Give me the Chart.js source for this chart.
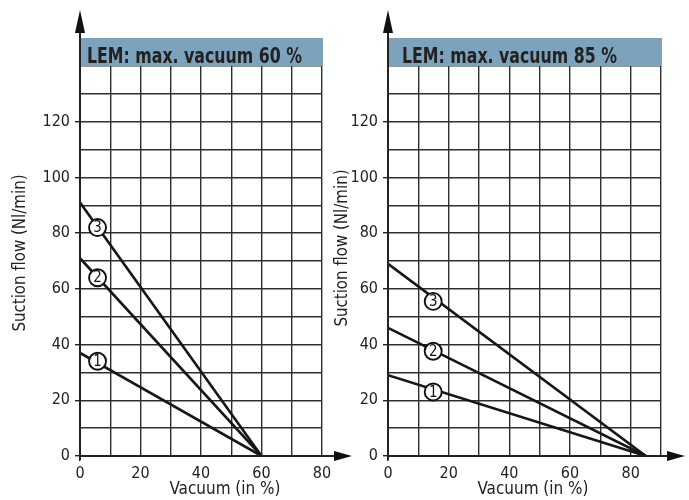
<!DOCTYPE html>
<html><head><meta charset="utf-8">
<script src="https://cdn.jsdelivr.net/npm/chart.js@4/dist/chart.umd.min.js"></script>
<style>
html,body{margin:0;padding:0;background:#fff;}
body{width:689px;height:500px;position:relative;overflow:hidden;}
canvas{position:absolute;top:0;}
#c1{left:0;} #c2{left:322px;}
</style></head><body>
<canvas id="c1" width="360" height="500"></canvas>
<canvas id="c2" width="367" height="500"></canvas>
<script>
// ---------- data ----------
const xTickLabels = ['0', '20', '40', '60', '80'];
const yTickLabels = ['0', '20', '40', '60', '80', '100', '120'];
const curveNames = ['1', '2', '3'];
const xAxisTitle = 'Vacuum (in %)';
const yAxisTitle = 'Suction flow (Nl/min)';

const leftTitle = 'LEM: max. vacuum 60 %';
const leftVacuum = [0, 60];
const leftFlow1 = [37, 0];
const leftFlow2 = [71, 0];
const leftFlow3 = [91, 0];
const leftLabelVacuum = [5.8, 5.8, 5.8];
const leftLabelFlow = [34, 64, 82];

const rightTitle = 'LEM: max. vacuum 85 %';
const rightVacuum = [0, 85];
const rightFlow1 = [29, 0];
const rightFlow2 = [46, 0];
const rightFlow3 = [69, 0];
const rightLabelVacuum = [14.9, 14.9, 14.9];
const rightLabelFlow = [23, 37.6, 55.5];

// ---------- styling ----------
const FONT = "'Liberation Sans Narrow','DejaVu Sans Condensed','Arial Narrow',sans-serif";
const INK = '#222';
const GRID = '#2e2e2e';
const BAND = '#7ca2bc';

function pts(xs, ys) { return xs.map((x, i) => ({ x: x, y: ys[i] })); }

// draw text squeezed horizontally to a given width (condensed look)
function fitText(ctx, text, x, y, width) {
  const w = ctx.measureText(text).width;
  const k = Math.min(1, width / w);
  ctx.save();
  ctx.translate(x, y);
  ctx.scale(k, 1);
  ctx.fillText(text, 0, 0);
  ctx.restore();
}

const decor = {
  id: 'decor',
  afterDatasetsDraw(chart) {
    const ctx = chart.ctx;
    const meta = chart.getDatasetMeta(3);
    ctx.save();
    ctx.fillStyle = '#111';
    ctx.font = '16px ' + FONT;
    ctx.textAlign = 'center';
    ctx.textBaseline = 'middle';
    meta.data.forEach((el, i) => {
      fitText(ctx, curveNames[i], el.x, el.y + 0.5, 8.5);
    });
    ctx.restore();
  },
  afterDraw(chart, args, o) {
    const ctx = chart.ctx;
    const a = chart.chartArea;
    ctx.save();
    // header band
    ctx.fillStyle = BAND;
    ctx.fillRect(a.left, 38, a.right - a.left + 1, a.top - 38);
    ctx.fillStyle = INK;
    ctx.font = 'bold 21px ' + FONT;
    ctx.textAlign = 'left';
    ctx.textBaseline = 'alphabetic';
    fitText(ctx, o.header, a.left + o.headerDx, 63, 215);
    // y axis extension + arrow
    ctx.strokeStyle = '#222';
    ctx.lineWidth = 2;
    ctx.beginPath();
    ctx.moveTo(a.left, a.bottom + 4);
    ctx.lineTo(a.left, 30);
    ctx.stroke();
    ctx.fillStyle = '#111';
    ctx.beginPath();
    ctx.moveTo(a.left, 10);
    ctx.lineTo(a.left - 5, 33);
    ctx.lineTo(a.left + 5, 33);
    ctx.closePath();
    ctx.fill();
    // x axis extension + arrow
    ctx.beginPath();
    ctx.moveTo(a.left, a.bottom);
    ctx.lineTo(a.right + o.arrowLen - 16, a.bottom);
    ctx.stroke();
    ctx.beginPath();
    ctx.moveTo(a.right + o.arrowLen, a.bottom);
    ctx.lineTo(a.right + o.arrowLen - 18, a.bottom - 5);
    ctx.lineTo(a.right + o.arrowLen - 18, a.bottom + 5);
    ctx.closePath();
    ctx.fill();
    // axis titles
    ctx.fillStyle = INK;
    ctx.font = '18px ' + FONT;
    ctx.textAlign = 'center';
    ctx.textBaseline = 'middle';
    fitText(ctx, xAxisTitle, a.left + 145, 489, 111);
    ctx.translate(20, o.yTitleY);
    ctx.rotate(-Math.PI / 2);
    fitText(ctx, yAxisTitle, 0, 0, 157);
    ctx.restore();
  }
};

function makeChart(id, cfg) {
  const canvas = document.getElementById(id);
  const W = canvas.width;
  return new Chart(canvas, {
    type: 'line',
    data: {
      datasets: [
        { data: pts(cfg.vac, cfg.f1), borderColor: '#161616', borderWidth: 2.6, pointRadius: 0, order: 1 },
        { data: pts(cfg.vac, cfg.f2), borderColor: '#161616', borderWidth: 2.6, pointRadius: 0, order: 1 },
        { data: pts(cfg.vac, cfg.f3), borderColor: '#161616', borderWidth: 2.6, pointRadius: 0, order: 1 },
        { data: pts(cfg.lx, cfg.ly), showLine: false, pointRadius: 8.5, pointBackgroundColor: '#fff',
          pointBorderColor: '#111', pointBorderWidth: 1.9, order: 0, clip: false }
      ]
    },
    options: {
      responsive: false,
      animation: false,
      events: [],
      layout: { padding: { top: 66, right: W - cfg.right, left: 0, bottom: 0 } },
      plugins: {
        legend: { display: false },
        tooltip: { enabled: false },
        decor: { header: cfg.header, headerDx: cfg.headerDx, arrowLen: cfg.arrowLen, yTitleY: cfg.yTitleY }
      },
      scales: {
        x: {
          type: 'linear', min: 0, max: cfg.xmax,
          afterFit: s => { s.height = 44; },
          ticks: {
            stepSize: 10, autoSkip: false, maxRotation: 0, padding: 3, color: INK,
            font: { family: FONT, size: 16 },
            callback: v => xTickLabels.includes(String(v)) ? String(v) : ''
          },
          grid: {
            color: GRID, lineWidth: 1.4, tickLength: 5,
            tickColor: c => (c.tick && c.tick.value === 0) ? '#222' : 'rgba(0,0,0,0)'
          },
          border: { color: '#222', width: 2 }
        },
        y: {
          type: 'linear', min: 0, max: 140,
          afterFit: s => { s.width = cfg.left; },
          ticks: {
            stepSize: 10, autoSkip: false, padding: 5, color: INK,
            font: { family: FONT, size: 16 },
            callback: v => yTickLabels.includes(String(v)) ? String(v) : ''
          },
          grid: {
            color: GRID, lineWidth: 1.4, tickLength: 5,
            tickColor: c => (c.tick && yTickLabels.includes(String(c.tick.value))) ? '#222' : 'rgba(0,0,0,0)'
          },
          border: { color: '#222', width: 2 }
        }
      }
    },
    plugins: [decor]
  });
}

makeChart('c1', {
  vac: leftVacuum, f1: leftFlow1, f2: leftFlow2, f3: leftFlow3,
  lx: leftLabelVacuum, ly: leftLabelFlow, xmax: 80,
  left: 80, right: 322, header: leftTitle, headerDx: 7, arrowLen: 30, yTitleY: 253
});
makeChart('c2', {
  vac: rightVacuum, f1: rightFlow1, f2: rightFlow2, f3: rightFlow3,
  lx: rightLabelVacuum, ly: rightLabelFlow, xmax: 90,
  left: 66, right: 339, header: rightTitle, headerDx: 14, arrowLen: 24, yTitleY: 248
});
</script>
</body></html>
